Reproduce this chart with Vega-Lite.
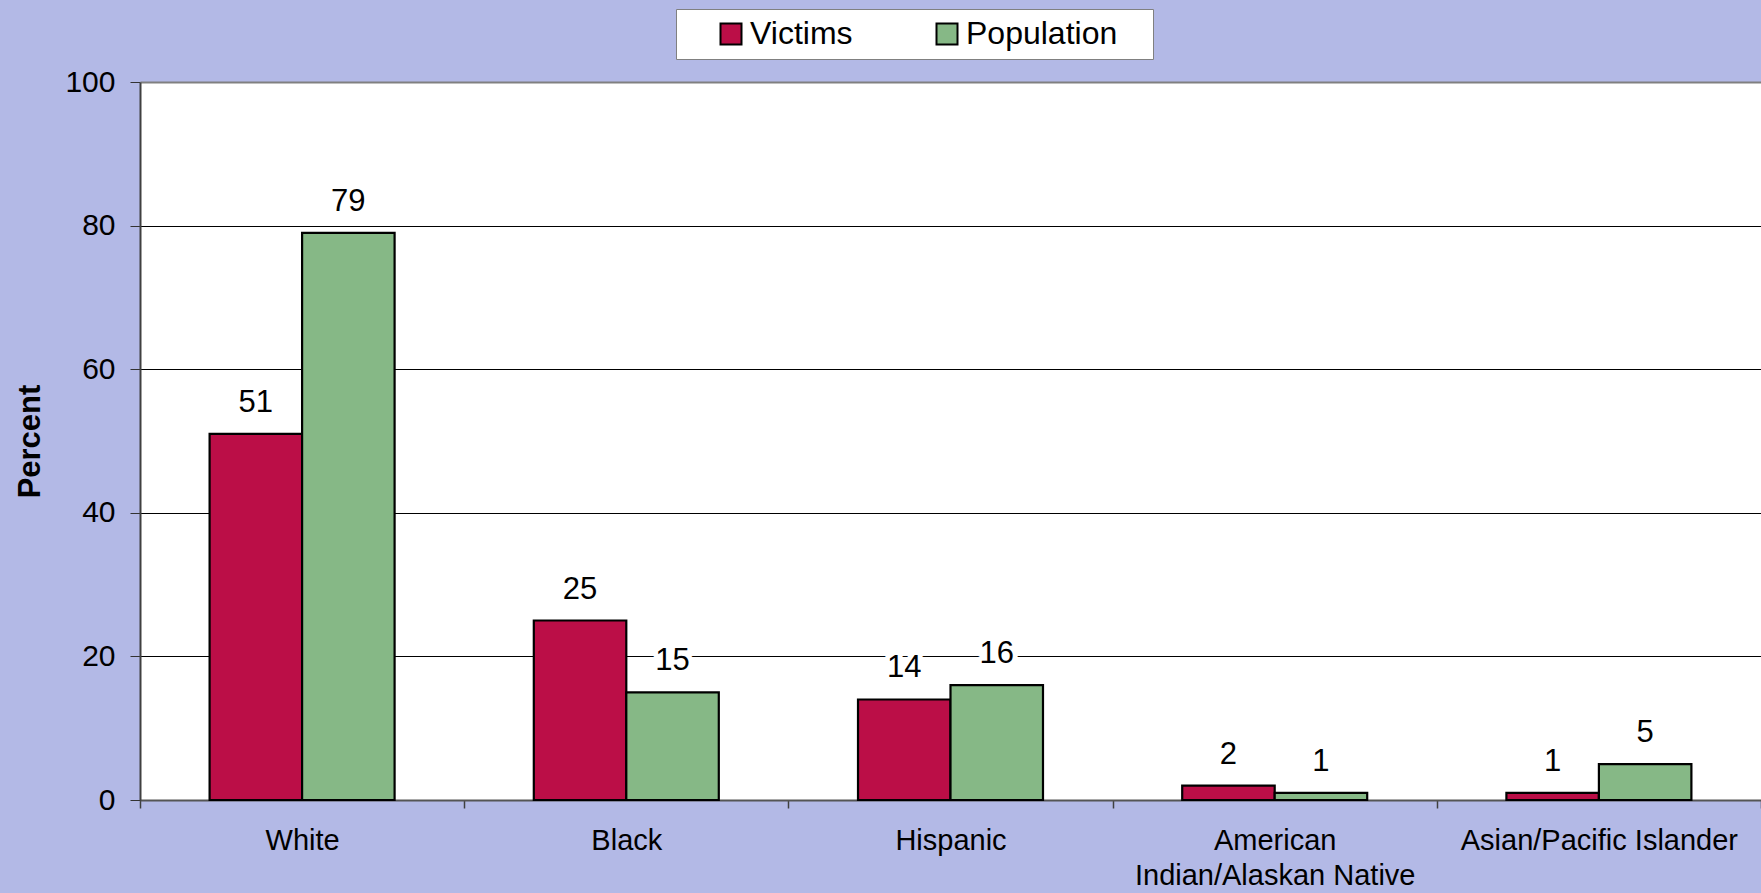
{
  "$schema": "https://vega.github.io/schema/vega-lite/v6.json",
  "width": 1621,
  "height": 718,
  "autosize": {"type": "none"},
  "padding": {"left": 140, "top": 82, "right": 0, "bottom": 93},
  "background": "#B3B9E6",
  "view": {"fill": "white", "stroke": null},
  "config": {"font": "Liberation Sans"},
  "data": {
    "values": [
      {"race": "White", "group": "Victims", "percent": 51},
      {"race": "White", "group": "Population", "percent": 79},
      {"race": "Black", "group": "Victims", "percent": 25},
      {"race": "Black", "group": "Population", "percent": 15},
      {"race": "Hispanic", "group": "Victims", "percent": 14},
      {"race": "Hispanic", "group": "Population", "percent": 16},
      {"race": "American Indian/Alaskan Native", "group": "Victims", "percent": 2},
      {"race": "American Indian/Alaskan Native", "group": "Population", "percent": 1},
      {"race": "Asian/Pacific Islander", "group": "Victims", "percent": 1},
      {"race": "Asian/Pacific Islander", "group": "Population", "percent": 5}
    ]
  },
  "encoding": {
    "x": {
      "field": "race",
      "type": "nominal",
      "sort": ["White", "Black", "Hispanic", "American Indian/Alaskan Native", "Asian/Pacific Islander"],
      "scale": {"paddingInner": 0, "paddingOuter": 0},
      "axis": {
        "title": null,
        "tickBand": "extent",
        "tickSize": 8,
        "tickColor": "#404040",
        "tickWidth": 1.5,
        "labelFontSize": 29,
        "labelColor": "black",
        "labelPadding": 18,
        "labelAngle": 0,
        "labelLineHeight": 35,
        "labelOverlap": false,
        "labelLimit": 400,
        "labelExpr": "datum.label == 'American Indian/Alaskan Native' ? ['American', 'Indian/Alaskan Native'] : datum.label",
        "domainColor": "#555555",
        "domainWidth": 2
      }
    },
    "xOffset": {
      "field": "group",
      "type": "nominal",
      "sort": ["Victims", "Population"],
      "scale": {"paddingInner": 0, "paddingOuter": 0.7525}
    },
    "y": {
      "field": "percent",
      "type": "quantitative",
      "scale": {"domain": [0, 100], "nice": false},
      "axis": {
        "title": "Percent",
        "titleFontSize": 31,
        "titleFontWeight": "bold",
        "titleColor": "black",
        "titleX": -110,
        "titleY": 359,
        "titleBaseline": "middle",
        "titleAngle": 270,
        "values": [0, 20, 40, 60, 80, 100],
        "labelFontSize": 30,
        "labelColor": "black",
        "labelPadding": 15,
        "tickSize": 10,
        "tickColor": "#333333",
        "domainColor": "#404040",
        "domainWidth": 2,
        "grid": true,
        "gridColor": {"condition": {"test": "datum.value == 100", "value": "#808080"}, "value": "black"},
        "gridWidth": {"condition": {"test": "datum.value == 100", "value": 2}, "value": 1}
      }
    }
  },
  "layer": [
    {
      "mark": {"type": "bar", "stroke": "black", "strokeWidth": 2.2},
      "encoding": {
        "color": {
          "field": "group",
          "type": "nominal",
          "scale": {"domain": ["Victims", "Population"], "range": ["#BB0E47", "#86B886"]},
          "legend": {
            "orient": "none",
            "legendX": 536,
            "legendY": -73,
            "direction": "horizontal",
            "title": "\u00a0",
            "titleOrient": "right",
            "titlePadding": 27,
            "titleFontSize": 30,
            "padding": 9,
            "fillColor": "white",
            "strokeColor": "#808080",
            "symbolType": "square",
            "symbolSize": 441,
            "symbolOffset": 30,
            "symbolStrokeColor": "black",
            "symbolStrokeWidth": 2,
            "symbolOpacity": 1,
            "labelFontSize": 32,
            "labelColor": "black",
            "labelOffset": 3,
            "columnPadding": 48
          }
        }
      }
    },
    {
      "mark": {"type": "text", "dy": -31, "fontSize": 31, "baseline": "middle", "fill": "white", "stroke": "white", "strokeWidth": 10, "strokeJoin": "round"},
      "encoding": {"text": {"field": "percent", "type": "quantitative"}}
    },
    {
      "mark": {"type": "text", "dy": -31, "fontSize": 31, "baseline": "middle", "fill": "black"},
      "encoding": {"text": {"field": "percent", "type": "quantitative"}}
    }
  ]
}
